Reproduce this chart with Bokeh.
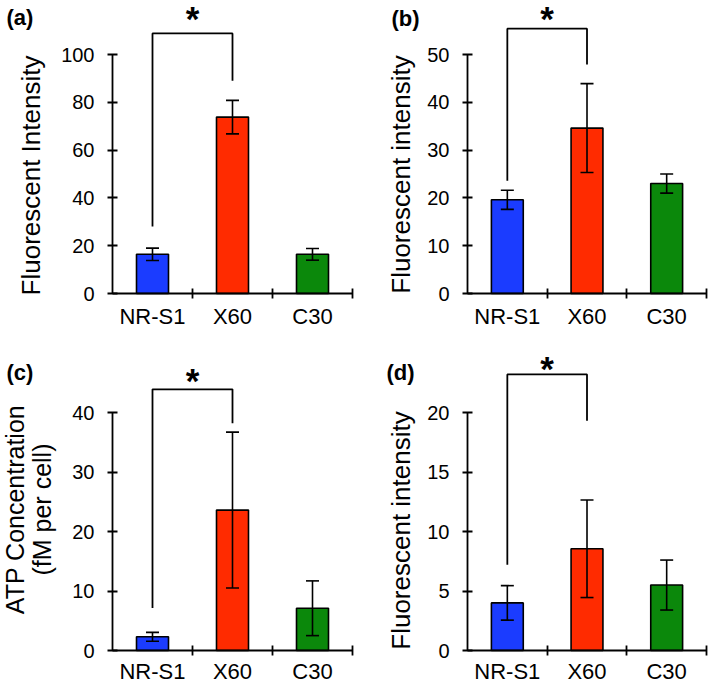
import math
from bokeh.plotting import figure
from bokeh.layouts import column, row
from bokeh.models import Range1d, FixedTicker, Whisker, TeeHead, ColumnDataSource
from bokeh.core.properties import value
from bokeh.embed import file_html
from bokeh.resources import INLINE

# ---------------- data ----------------
categories = ["NR-S1", "X60", "C30"]
bar_colors = ["#1b3cff", "#ff2b00", "#0b880b"]

a_means = [16.4, 73.8, 16.4]
a_err = [2.6, 7.0, 2.45]
b_means = [19.6, 34.6, 23.0]
b_err = [2.0, 9.3, 2.0]
c_means = [2.3, 23.6, 7.1]
c_err = [0.75, 13.1, 4.6]
d_means = [4.0, 8.55, 5.5]
d_err = [1.45, 4.1, 2.1]

# significance bracket between NR-S1 and X60: [left leg bottom, top, right leg bottom]
a_bracket = [28.0, 108.8, 89.0]
b_bracket = [23.6, 55.4, 47.9]
c_bracket = [7.15, 43.9, 38.2]
d_bracket = [7.2, 23.2, 19.3]

a_yticks = [0, 20, 40, 60, 80, 100]
b_yticks = [0, 10, 20, 30, 40, 50]
c_yticks = [0, 10, 20, 30, 40]
d_yticks = [0, 5, 10, 15, 20]

panel_labels = ["(a)", "(b)", "(c)", "(d)"]
a_ytitle = ["Fluorescent Intensity"]
b_ytitle = ["Fluorescent intensity"]
c_ytitle = ["ATP Concentration", "(fM per cell)"]
d_ytitle = ["Fluorescent intensity"]

FONT = "Liberation Sans"


def make_panel(means, errs, bracket, yticks, plabel, ytitle_lines, g):
    n = len(categories)
    xs = [i + 0.5 for i in range(n)]
    band = g["band"]
    ppu = (g["y0px"] - g["toppx"]) / yticks[-1]

    def dx(px):
        return (px - g["ax0"]) / band

    def dy(py):
        return (g["y0px"] - py) / ppu

    p = figure(width=g["w"], height=g["h"],
               x_range=Range1d(dx(0), dx(g["w"])),
               y_range=Range1d(dy(g["h"]), dy(0)), output_backend="svg",
               toolbar_location=None, title=None,
               min_border_left=0, min_border_right=0,
               min_border_top=0, min_border_bottom=0)
    p.outline_line_color = None
    p.xgrid.visible = False
    p.ygrid.visible = False
    p.background_fill_color = "white"
    p.border_fill_color = "white"

    src = ColumnDataSource(dict(x=xs, top=means, color=bar_colors,
                                lower=[m - e for m, e in zip(means, errs)],
                                upper=[m + e for m, e in zip(means, errs)]))
    p.vbar(x="x", top="top", bottom=0, width=0.4, fill_color="color",
           line_color="black", line_width=1.6, source=src)
    w = Whisker(base="x", lower="lower", upper="upper", source=src,
                line_color="black", line_width=1.6, level="annotation",
                upper_head=TeeHead(size=13, line_width=1.6, line_color="black"),
                lower_head=TeeHead(size=13, line_width=1.6, line_color="black"))
    p.add_layout(w)

    # significance bracket and star
    p.line(x=[xs[0], xs[0], xs[1], xs[1]],
           y=[bracket[0], bracket[1], bracket[1], bracket[2]],
           line_color="black", line_width=1.8)
    p.text(x=[(xs[0] + xs[1]) / 2], y=[bracket[1]], text=["*"],
           text_align="center", text_baseline="alphabetic",
           y_offset=g["star_off"], text_font=value(FONT),
           text_font_style="bold", text_font_size="35px", text_color="black")

    # x axis, drawn at y = 0
    xa = p.xaxis[0]
    xa.fixed_location = 0
    xa.bounds = (0, n)
    xa.ticker = FixedTicker(ticks=xs, minor_ticks=list(range(1, n + 1)))
    xa.major_label_overrides = {x: c for x, c in zip(xs, categories)}
    xa.major_tick_in = 0
    xa.major_tick_out = 0
    xa.minor_tick_in = 5
    xa.minor_tick_out = 5
    xa.minor_tick_line_color = "black"
    xa.minor_tick_line_width = 1.8
    xa.axis_line_color = "black"
    xa.axis_line_width = 1.8
    xa.major_label_standoff = g["xlab_standoff"]
    xa.major_label_text_font = FONT
    xa.major_label_text_font_size = "22px"
    xa.major_label_text_color = "black"

    # y axis, drawn at x = 0
    ya = p.yaxis[0]
    ya.fixed_location = 0
    ya.ticker = FixedTicker(ticks=yticks)
    ya.bounds = (yticks[0], yticks[-1])
    ya.minor_tick_line_color = None
    ya.major_tick_in = 5
    ya.major_tick_out = 5
    ya.major_tick_line_color = "black"
    ya.major_tick_line_width = 1.8
    ya.axis_line_color = "black"
    ya.axis_line_width = 1.8
    ya.major_label_standoff = 13
    ya.major_label_text_font = FONT
    ya.major_label_text_font_size = "20px"
    ya.major_label_text_color = "black"

    # y axis title (one text per line, rotated)
    for line_text, lx in zip(ytitle_lines, g["title_x"]):
        p.text(x=[dx(lx)], y=[dy(g["title_y"])], text=[line_text], angle=math.pi / 2,
               text_align="center", text_baseline="middle",
               text_font=value(FONT), text_font_size=g["title_size"],
               text_color="black")

    # panel letter
    p.text(x=[dx(g["lab_x"])], y=[dy(g["lab_y"])], text=[plabel],
           text_align="left", text_baseline="middle",
           text_font=value(FONT), text_font_style="bold",
           text_font_size="22px", text_color="black")
    return p


geoms = [
    dict(w=354, h=342, ax0=112, band=80.0, y0px=293, toppx=54, star_off=-15,
         xlab_standoff=5,
         title_x=[30], title_y=175, title_size="26px", lab_x=6, lab_y=17),
    dict(w=355, h=342, ax0=113, band=79.67, y0px=293, toppx=54, star_off=-10,
         xlab_standoff=5,
         title_x=[46], title_y=174, title_size="26px", lab_x=37, lab_y=18),
    dict(w=354, h=342, ax0=112, band=80.0, y0px=308, toppx=70, star_off=-9,
         xlab_standoff=3,
         title_x=[14, 41], title_y=167, title_size="25px", lab_x=6, lab_y=30),
    dict(w=355, h=342, ax0=113, band=79.67, y0px=308, toppx=70, star_off=-6,
         xlab_standoff=3,
         title_x=[46], title_y=188, title_size="26px", lab_x=32, lab_y=30),
]

pa = make_panel(a_means, a_err, a_bracket, a_yticks, panel_labels[0], a_ytitle, geoms[0])
pb = make_panel(b_means, b_err, b_bracket, b_yticks, panel_labels[1], b_ytitle, geoms[1])
pc = make_panel(c_means, c_err, c_bracket, c_yticks, panel_labels[2], c_ytitle, geoms[2])
pd = make_panel(d_means, d_err, d_bracket, d_yticks, panel_labels[3], d_ytitle, geoms[3])

layout = column(row(pa, pb), row(pc, pd))
open("out.html", "w").write(file_html(layout, INLINE))
